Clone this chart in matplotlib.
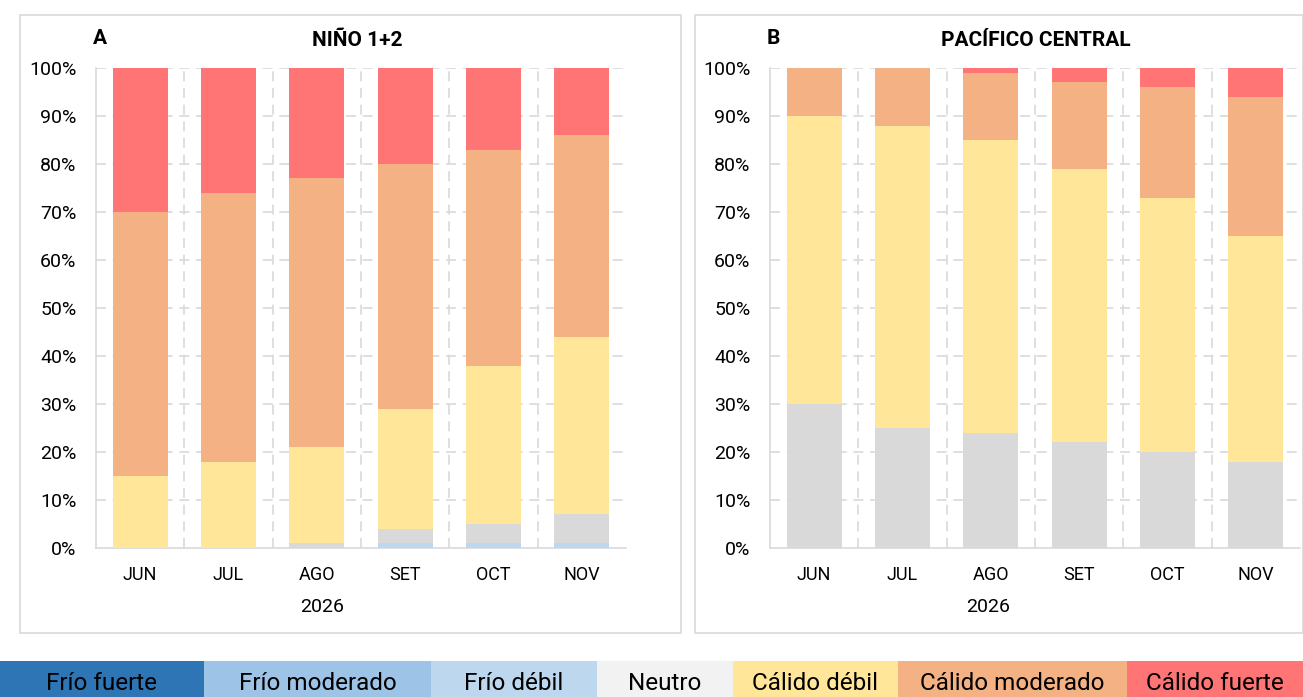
import numpy as np
import matplotlib
matplotlib.use('Agg')
import matplotlib.pyplot as plt
from matplotlib.patches import Rectangle

# datos (%)
meses = ['JUN', 'JUL', 'AGO', 'SET', 'OCT', 'NOV']
anio = '2026'
categorias = ['Frío fuerte', 'Frío moderado', 'Frío débil', 'Neutro',
              'Cálido débil', 'Cálido moderado', 'Cálido fuerte']

nino12 = {
    'Frío fuerte':     [0, 0, 0, 0, 0, 0],
    'Frío moderado':   [0, 0, 0, 0, 0, 0],
    'Frío débil':      [0, 0, 0, 1, 1, 1],
    'Neutro':          [0, 0, 1, 3, 4, 6],
    'Cálido débil':    [15, 18, 20, 25, 33, 37],
    'Cálido moderado': [55, 56, 56, 51, 45, 42],
    'Cálido fuerte':   [30, 26, 23, 20, 17, 14],
}
pacifico = {
    'Frío fuerte':     [0, 0, 0, 0, 0, 0],
    'Frío moderado':   [0, 0, 0, 0, 0, 0],
    'Frío débil':      [0, 0, 0, 0, 0, 0],
    'Neutro':          [30, 25, 24, 22, 20, 18],
    'Cálido débil':    [60, 63, 61, 57, 53, 47],
    'Cálido moderado': [10, 12, 14, 18, 23, 29],
    'Cálido fuerte':   [0, 0, 1, 3, 4, 6],
}

colores_barra = ['#2e75b6', '#9dc3e6', '#bdd7ee', '#d9d9d9',
                 '#ffe699', '#f4b183', '#ff7575']
colores_leyenda = ['#2e75b6', '#9dc3e6', '#bdd7ee', '#f2f2f2',
                   '#ffe699', '#f4b183', '#ff7575']

plt.rcParams['font.family'] = ['Roboto', 'DejaVu Sans']

W, H = 1303, 697
fig = plt.figure(figsize=(W / 100, H / 100), dpi=100)


def px_axes(x0, y0, x1, y1):
    return fig.add_axes([x0 / W, 1 - y1 / H, (x1 - x0) / W, (y1 - y0) / H])


def panel(box, ax_box, datos, letra, titulo, cx_titulo, cx_anio):
    bx0, by0, bx1, by1 = box
    fig.patches.append(Rectangle((bx0 / W, 1 - by1 / H), (bx1 - bx0) / W,
                                 (by1 - by0) / H, transform=fig.transFigure,
                                 fill=False, edgecolor='#d9d9d9', lw=1.2))
    ax = px_axes(*ax_box)
    x = np.arange(len(meses))
    fondo = np.zeros(len(meses))
    for cat, col in zip(categorias, colores_barra):
        v = np.array(datos[cat], dtype=float)
        ax.bar(x, v, width=0.62, bottom=fondo, color=col, zorder=3)
        fondo += v
    ax.set_xlim(-0.5, len(meses) - 0.5)
    ax.set_ylim(0, 100)
    ax.set_yticks(np.arange(0, 101, 10))
    ax.set_yticklabels([f'{v}%' for v in range(0, 101, 10)], fontsize=14)
    ax.set_xticks(x)
    ax.set_xticklabels(meses, fontsize=13)
    ax.tick_params(length=0)
    ax.tick_params(axis='y', pad=14)
    ax.tick_params(axis='x', pad=13)
    for yv in range(10, 101, 10):
        ax.axhline(yv, color='#d9d9d9', lw=1.2, ls=(0, (6, 4)), zorder=1)
    for xv in np.arange(0.5, len(meses) - 0.5, 1):
        ax.axvline(xv, color='#d9d9d9', lw=1.2, ls=(0, (6, 4)), zorder=1)
    for s in ax.spines.values():
        s.set_color('#d9d9d9')
        s.set_linewidth(1.2)
    ax.spines['top'].set_visible(False)
    ax.spines['right'].set_visible(False)
    fig.text(cx_anio / W, 1 - 607 / H, anio, ha='center', va='center',
             fontsize=14)
    fig.text((ax_box[0] - 3) / W, 1 - 38 / H, letra, fontsize=15,
             fontweight='bold', ha='left', va='center')
    fig.text(cx_titulo / W, 1 - 40 / H, titulo, fontsize=15,
             fontweight='bold', ha='center', va='center')
    return ax


panel((20, 15, 681, 633), (96, 68, 626, 548), nino12, 'A', 'NIÑO 1+2',
      357, 322)
panel((695, 15, 1303, 633), (770, 68, 1300, 548), pacifico, 'B',
      'PACÍFICO CENTRAL', 1036, 988)

# leyenda en franja inferior
bordes = [0, 204, 431, 597, 733, 898, 1127, 1303]
for i, (cat, col) in enumerate(zip(categorias, colores_leyenda)):
    x0, x1 = bordes[i], bordes[i + 1]
    fig.patches.append(Rectangle((x0 / W, 0), (x1 - x0) / W, 36 / H,
                                 transform=fig.transFigure, color=col, lw=0))
    fig.text((x0 + x1) / 2 / W, 1 - 683 / H, cat, fontsize=17.5, ha='center',
             va='center')

fig.savefig('out.png', dpi=100)
